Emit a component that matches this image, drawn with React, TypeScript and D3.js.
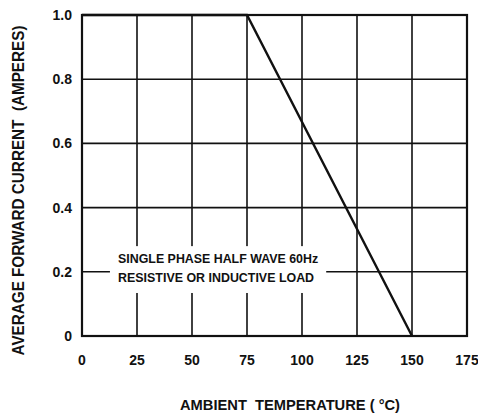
import React, { useEffect, useRef } from 'react';
import * as d3 from 'd3';

const xTicks = [0, 25, 50, 75, 100, 125, 150, 175];
const yTicks = [0, 0.2, 0.4, 0.6, 0.8, 1.0];
const yTickLabels = ['0', '0.2', '0.4', '0.6', '0.8', '1.0'];
const ambientTemp = [0, 75, 150];
const forwardCurrent = [1.0, 1.0, 0];
const noteLines = ['SINGLE PHASE HALF WAVE 60Hz', 'RESISTIVE OR INDUCTIVE LOAD'];

const App = () => {
  const svgRef = useRef<SVGSVGElement>(null);

  useEffect(() => {
    const W = 478;
    const H = 416;
    const margin = { top: 15, right: 11, bottom: 80, left: 82 };
    const width = W - margin.left - margin.right;
    const height = H - margin.top - margin.bottom;
    const ink = '#111';
    const font = '"Liberation Sans", Arial, sans-serif';

    d3.select(svgRef.current).selectAll('*').remove();

    const svg = d3
      .select(svgRef.current)
      .attr('width', W)
      .attr('height', H)
      .append('g')
      .attr('transform', `translate(${margin.left},${margin.top})`);

    const x = d3.scaleLinear().domain([0, 175]).range([0, width]);
    const y = d3.scaleLinear().domain([0, 1]).range([height, 0]);

    // grid
    svg
      .selectAll('.vgrid')
      .data(xTicks)
      .enter()
      .append('line')
      .attr('x1', (d) => x(d))
      .attr('x2', (d) => x(d))
      .attr('y1', 0)
      .attr('y2', height)
      .attr('stroke', ink)
      .attr('stroke-width', 1.6);

    svg
      .selectAll('.hgrid')
      .data(yTicks)
      .enter()
      .append('line')
      .attr('x1', 0)
      .attr('x2', width)
      .attr('y1', (d) => y(d))
      .attr('y2', (d) => y(d))
      .attr('stroke', ink)
      .attr('stroke-width', 1.6);

    // note box masks the grid
    const boxX0 = x(12.7);
    const boxX1 = x(111);
    const boxY0 = y(0.28);
    const boxY1 = y(0.134);
    svg
      .append('rect')
      .attr('x', boxX0)
      .attr('y', boxY0)
      .attr('width', boxX1 - boxX0)
      .attr('height', boxY1 - boxY0)
      .attr('fill', '#fff');

    noteLines.forEach((t, i) => {
      svg
        .append('text')
        .attr('x', x(16.4))
        .attr('y', y(0.227) + i * 19)
        .attr('font-family', font)
        .attr('font-weight', 'bold')
        .attr('font-size', 12)
        .attr('textLength', i === 0 ? 200 : 196)
        .attr('lengthAdjust', 'spacingAndGlyphs')
        .attr('fill', ink)
        .text(t);
    });

    // border
    svg
      .append('rect')
      .attr('x', 0)
      .attr('y', 0)
      .attr('width', width)
      .attr('height', height)
      .attr('fill', 'none')
      .attr('stroke', ink)
      .attr('stroke-width', 2.2);

    // derating curve
    const line = d3
      .line<number>()
      .x((d) => x(d))
      .y((_, i) => y(forwardCurrent[i]));
    svg
      .append('path')
      .datum(ambientTemp)
      .attr('d', line)
      .attr('fill', 'none')
      .attr('stroke', ink)
      .attr('stroke-width', 2.4);

    // tick labels
    svg
      .selectAll('.xlab')
      .data(xTicks)
      .enter()
      .append('text')
      .attr('x', (d) => x(d))
      .attr('y', height + 29)
      .attr('text-anchor', 'middle')
      .attr('font-family', font)
      .attr('font-weight', 'bold')
      .attr('font-size', 14)
      .attr('fill', ink)
      .text((d) => d);

    svg
      .selectAll('.ylab')
      .data(yTicks)
      .enter()
      .append('text')
      .attr('x', -10)
      .attr('y', (d) => y(d))
      .attr('dy', '0.36em')
      .attr('text-anchor', 'end')
      .attr('font-family', font)
      .attr('font-weight', 'bold')
      .attr('font-size', 14)
      .attr('fill', ink)
      .text((_, i) => yTickLabels[i]);

    // axis titles
    svg
      .append('text')
      .attr('x', 98 + 110)
      .attr('y', height + 74)
      .attr('text-anchor', 'middle')
      .attr('font-family', font)
      .attr('font-weight', 'bold')
      .attr('font-size', 15)
      .attr('textLength', 220)
      .attr('lengthAdjust', 'spacingAndGlyphs')
      .attr('fill', ink)
      .style('white-space', 'pre')
      .text('AMBIENT  TEMPERATURE ( °C)');

    svg
      .append('text')
      .attr('transform', `translate(${-58},${height / 2 + 15}) rotate(-90)`)
      .attr('text-anchor', 'middle')
      .attr('font-family', font)
      .attr('font-weight', 'bold')
      .attr('font-size', 16)
      .attr('textLength', 330)
      .attr('lengthAdjust', 'spacingAndGlyphs')
      .attr('fill', ink)
      .style('white-space', 'pre')
      .text('AVERAGE FORWARD CURRENT  (AMPERES)');
  }, []);

  return (
    <div style={{ position: 'absolute', left: 0, top: 0, width: 478, height: 416, background: '#fff' }}>
      <svg ref={svgRef}></svg>
    </div>
  );
};

export default App;
